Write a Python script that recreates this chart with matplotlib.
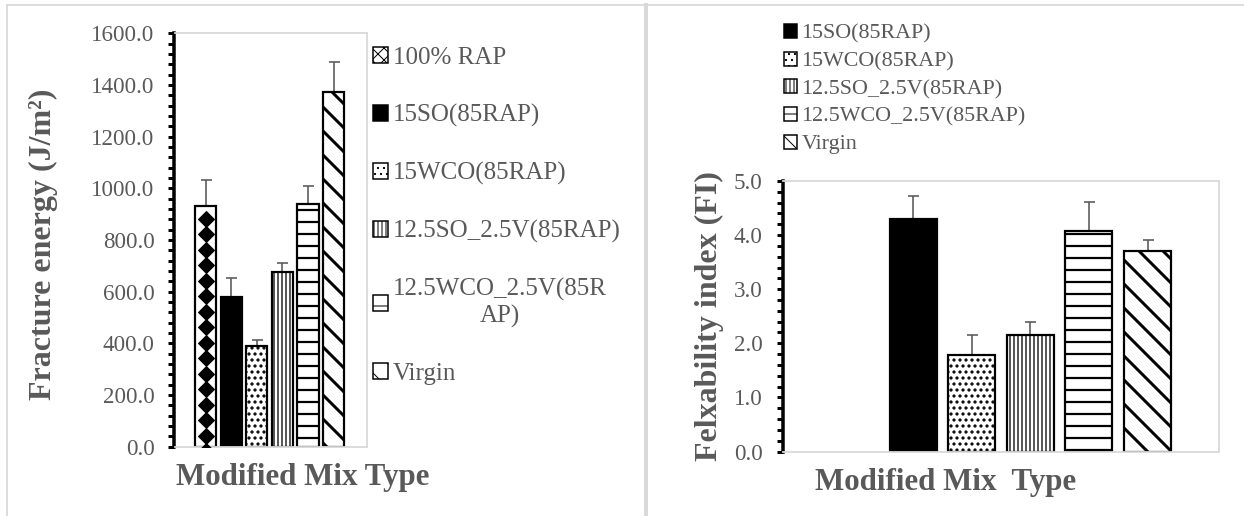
# -*- coding: utf-8 -*-
import numpy as np
import matplotlib
matplotlib.use('Agg')
import matplotlib.pyplot as plt
from matplotlib.patches import Patch
from matplotlib.lines import Line2D
from matplotlib.ticker import MultipleLocator, FormatStrFormatter

# 数据
mix_types = ['100% RAP', '15SO(85RAP)', '15WCO(85RAP)', '12.5SO_2.5V(85RAP)',
             '12.5WCO_2.5V(85RAP)', 'Virgin']
legend_left_labels = ['100% RAP', '15SO(85RAP)', '15WCO(85RAP)', '12.5SO_2.5V(85RAP)',
                      '12.5WCO_2.5V(85R\nAP)', 'Virgin']
fracture_energy = [930, 578, 390, 677, 939, 1374]
fracture_err = [103, 74, 23, 33, 70, 116]
flex_index = [np.nan, 4.29, 1.79, 2.16, 4.07, 3.71]
flex_err = [np.nan, 0.43, 0.37, 0.24, 0.55, 0.20]

# 样式：(facecolor, hatch, hatch linewidth)
styles = [
    ('white', None, 1.0),
    ('black', None, 1.0),
    ('white', '..', 2.0),
    ('white', '|||', 1.3),
    ('white', '-', 2.2),
    ('white', '\\', 3.0),
]

GRAY = '#595959'
LIGHT = '#d9d9d9'
plt.rcParams['font.family'] = ['Liberation Serif', 'DejaVu Serif']

W, H = 1244, 516
fig = plt.figure(figsize=(W / 72, H / 72), dpi=72)


def draw_bars(ax, values, errs, xlim, ymax, major, ylabel, width):
    x = np.arange(len(values))
    bars = []
    for i, (fc, hatch, hlw) in enumerate(styles):
        with plt.rc_context({'hatch.linewidth': hlw}):
            b = ax.bar(x[i], values[i], width=width, color=fc, edgecolor='black',
                       linewidth=2.2, hatch=hatch, zorder=2)
        bars.append(b[0])
    # 100% RAP 的菱形图案
    if not np.isnan(values[0]):
        step = major * 0.3
        ys = np.arange(values[0] - step * 0.8, -step, -step)
        d1, = ax.plot(np.full(len(ys), x[0]), ys, 'D', ms=11.5, color='black', zorder=3)
        d1.set_clip_path(bars[0])
    ax.errorbar(x, values, yerr=[np.zeros(len(errs)), errs], fmt='none',
                ecolor=GRAY, elinewidth=1.6, capsize=5.5, capthick=1.6, zorder=1)
    ax.set_xlim(*xlim)
    ax.set_ylim(0, ymax)
    ax.yaxis.set_major_locator(MultipleLocator(major))
    ax.yaxis.set_minor_locator(MultipleLocator(major / 5))
    ax.yaxis.set_major_formatter(FormatStrFormatter('%.1f'))
    ax.set_xticks([])
    ax.tick_params(axis='y', which='both', direction='out', length=6, width=3,
                   color='black', labelsize=23, labelcolor=GRAY)
    ax.tick_params(axis='y', which='major', pad=14)
    for s in ['top', 'right', 'bottom']:
        ax.spines[s].set_color(LIGHT)
        ax.spines[s].set_linewidth(1.8)
    ax.spines['left'].set_color('black')
    ax.spines['left'].set_linewidth(3.5)
    ax.set_ylabel(ylabel, fontsize=32, fontweight='bold', color=GRAY, va='center')
    return bars


# 左图
ax1 = fig.add_axes([174.5 / W, 1 - 446.7 / H, 192 / W, 413.4 / H])
bars1 = draw_bars(ax1, fracture_energy, fracture_err, (-1.22, 6.29), 1600, 200,
                  'Fracture energy (J/m²)', 0.83)
ax1.yaxis.set_label_coords(-0.68, 0.49)
ax1.set_xlabel('Modified Mix Type', fontsize=31, fontweight='bold', color=GRAY, va='center')
ax1.xaxis.set_label_coords(0.667, -0.075)

# 右图
ax2 = fig.add_axes([782.5 / W, 1 - 451.5 / H, 436.5 / W, 270.5 / H])
bars2 = draw_bars(ax2, flex_index, flex_err, (-1.23, 6.22), 5.0, 1.0,
                  'Felxability index (FI)', 0.80)
ax2.yaxis.set_label_coords(-0.167, 0.5)
ax2.set_xlabel('Modified Mix  Type', fontsize=31, fontweight='bold', color=GRAY, va='center')
ax2.xaxis.set_label_coords(0.374, -0.114)


# 图例
def legend_handles(idx):
    hs = []
    for i in idx:
        fc, hatch, hlw = styles[i]
        if i == 0:
            hatch = 'xx'
        hs.append(Patch(facecolor=fc, edgecolor='black', hatch=hatch, linewidth=1.5))
    return hs


leg1 = fig.legend(legend_handles(range(6)), legend_left_labels, loc='upper left',
                  bbox_to_anchor=(373 / W, 1 - 47 / H), frameon=False, fontsize=25,
                  handlelength=0.6, handleheight=0.6, handletextpad=0.2,
                  labelspacing=1.4, borderpad=0, borderaxespad=0, labelcolor=GRAY)
for t in leg1.get_texts():
    t.set_multialignment('center')

leg2 = fig.legend(legend_handles(range(1, 6)), mix_types[1:], loc='upper left',
                  bbox_to_anchor=(784 / W, 1 - 24 / H), frameon=False, fontsize=22,
                  handlelength=0.6, handleheight=0.6, handletextpad=0.2,
                  labelspacing=0.36, borderpad=0, borderaxespad=0, labelcolor=GRAY)

# 外框
fig.add_artist(Line2D([7 / W, 1], [1 - 5 / H, 1 - 5 / H], transform=fig.transFigure,
                      color=LIGHT, lw=1.8))
fig.add_artist(Line2D([7 / W, 7 / W], [0, 1 - 5 / H], transform=fig.transFigure,
                      color=LIGHT, lw=1.8))
fig.add_artist(Line2D([646 / W, 646 / W], [0, 1 - 5 / H], transform=fig.transFigure,
                      color=LIGHT, lw=4))

fig.savefig('out.png', dpi=72)
